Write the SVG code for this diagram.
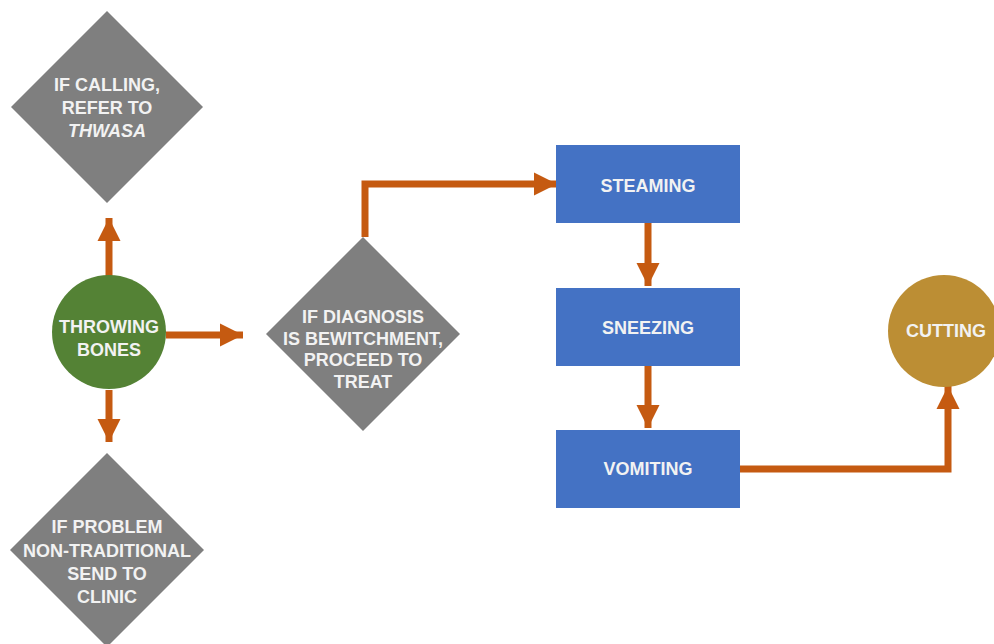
<svg xmlns="http://www.w3.org/2000/svg" width="994" height="644" viewBox="0 0 994 644">
<defs>
<marker id="ah" viewBox="0 0 10 10" refX="10" refY="5" markerWidth="3.3" markerHeight="3.3" orient="auto" markerUnits="strokeWidth">
<path d="M0,0 L10,5 L0,10 Z" fill="#c55a11"/>
</marker>
<style>
.t{font-family:"Liberation Sans",Arial,sans-serif;font-weight:bold;font-size:18px;fill:#f2f2f2;text-anchor:middle}
.d{fill:#7f7f7f}
.r{fill:#4472c4}
.c{fill:none;stroke:#c55a11;stroke-width:7;marker-end:url(#ah)}
</style>
</defs>
<rect width="994" height="644" fill="#ffffff"/>
<g id="connectors">
<path class="c" d="M109,276 V218"/>
<path class="c" d="M166,335 H243"/>
<path class="c" d="M109,390 V442"/>
<path class="c" d="M365,237 V184 H557"/>
<path class="c" d="M648,223 V286"/>
<path class="c" d="M648,366 V428"/>
<path class="c" d="M740,469 H948 V386"/>
</g>
<g id="n-calling">
<polygon class="d" points="107,11 203,107 107,203 11,107"/>
<text class="t" x="107" y="91">IF CALLING,</text>
<text class="t" x="107" y="114">REFER TO</text>
<text class="t" x="107" y="137" font-style="italic">THWASA</text>
</g>
<g id="n-throwing">
<circle cx="109" cy="332" r="57" fill="#548235"/>
<text class="t" x="109" y="333">THROWING</text>
<text class="t" x="109" y="356">BONES</text>
</g>
<g id="n-problem">
<polygon class="d" points="107,453 204,550 107,647 10,550"/>
<text class="t" x="107" y="533">IF PROBLEM</text>
<text class="t" x="107" y="557">NON-TRADITIONAL</text>
<text class="t" x="107" y="580">SEND TO</text>
<text class="t" x="107" y="603">CLINIC</text>
</g>
<g id="n-diagnosis">
<polygon class="d" points="363,237 460,334 363,431 266,334"/>
<text class="t" x="363" y="323">IF DIAGNOSIS</text>
<text class="t" x="363" y="345">IS BEWITCHMENT,</text>
<text class="t" x="363" y="366">PROCEED TO</text>
<text class="t" x="363" y="388">TREAT</text>
</g>
<g id="n-steaming">
<rect class="r" x="556" y="145" width="184" height="78"/>
<text class="t" x="648" y="192">STEAMING</text>
</g>
<g id="n-sneezing">
<rect class="r" x="556" y="288" width="184" height="78"/>
<text class="t" x="648" y="334">SNEEZING</text>
</g>
<g id="n-vomiting">
<rect class="r" x="556" y="430" width="184" height="78"/>
<text class="t" x="648" y="475">VOMITING</text>
</g>
<g id="n-cutting">
<circle cx="944" cy="331" r="56" fill="#bc8e34"/>
<text class="t" x="946" y="337">CUTTING</text>
</g>
</svg>
